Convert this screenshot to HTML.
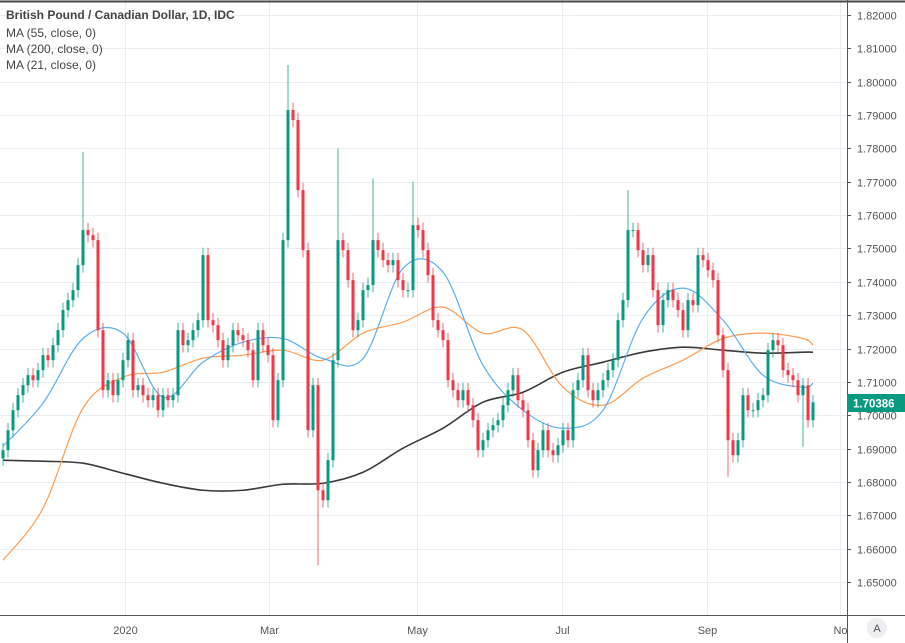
<!DOCTYPE html>
<html><head><meta charset="utf-8"><style>
body{margin:0;background:#fff;}
svg{display:block;font-family:"Liberation Sans",sans-serif;}
</style></head><body>
<svg id="chart" width="905" height="643" viewBox="0 0 905 643">
  <rect x="0" y="0" width="905" height="643" fill="#fff"/>
  <g id="grid"></g>
  <g id="mas"></g>
  <g id="candles"></g>
  <line x1="0" y1="1.5" x2="905" y2="1.5" stroke="#4a4a4a" stroke-width="2"/>
  <line x1="847.5" y1="0" x2="847.5" y2="643" stroke="#555" stroke-width="1"/>
  <line x1="0" y1="615.5" x2="905" y2="615.5" stroke="#555" stroke-width="1"/>
  <g id="yaxis"></g>
  <g id="xaxis"></g>
  <g font-size="12" fill="#444">
    <text x="6" y="19" font-weight="bold">British Pound / Canadian Dollar, 1D, IDC</text>
    <text x="6" y="37">MA (55, close, 0)</text>
    <text x="6" y="53">MA (200, close, 0)</text>
    <text x="6" y="69">MA (21, close, 0)</text>
  </g>
  <g>
    <rect x="847" y="394" width="58" height="18" fill="#089981"/>
    <text x="853" y="407.5" font-size="11.5" font-weight="bold" fill="#fff">1.70386</text>
  </g>
  <g>
    <circle cx="877" cy="628" r="10" fill="#eceef2"/>
    <text x="877" y="632" font-size="11" text-anchor="middle" fill="#555">A</text>
  </g>
</svg>
<script>
const closes=[1.6895,1.6955,1.7015,1.706,1.709,1.712,1.7105,1.7135,1.718,1.7165,1.721,1.7255,1.7315,1.7345,1.7375,1.745,1.7555,1.754,1.7525,1.7255,1.7075,1.7105,1.706,1.7105,1.7165,1.7225,1.7075,1.709,1.706,1.7045,1.706,1.7015,1.706,1.7045,1.706,1.7255,1.721,1.7225,1.7255,1.7285,1.748,1.7285,1.727,1.7225,1.7165,1.721,1.7255,1.724,1.7225,1.7195,1.7105,1.7255,1.721,1.718,1.6985,1.7105,1.7525,1.7915,1.7885,1.7675,1.7495,1.6955,1.709,1.6775,1.6745,1.6865,1.7165,1.7525,1.7495,1.7405,1.7255,1.7285,1.7375,1.739,1.7525,1.7495,1.7465,1.745,1.7465,1.7405,1.7375,1.7375,1.757,1.7555,1.7495,1.742,1.7285,1.7255,1.7225,1.7105,1.7075,1.7045,1.7075,1.703,1.6985,1.6895,1.6925,1.6955,1.697,1.6985,1.703,1.7075,1.712,1.7045,1.7015,1.6925,1.6835,1.6895,1.6955,1.6895,1.688,1.691,1.6955,1.6925,1.7075,1.7105,1.718,1.7075,1.7045,1.7075,1.7105,1.7135,1.7165,1.7285,1.7345,1.7555,1.7555,1.7495,1.745,1.748,1.7375,1.727,1.7345,1.7375,1.7345,1.7315,1.7255,1.7345,1.733,1.748,1.7465,1.7435,1.7405,1.724,1.7135,1.6925,1.688,1.6925,1.706,1.7015,1.7015,1.7045,1.706,1.7195,1.7225,1.721,1.7135,1.712,1.7105,1.706,1.709,1.6985,1.70386];
const firstOpen=1.6870;
const wick=0.0022;
const spikeIdx=[16,57,63,67,74,82,125,145,160];
const spikeVal=[1.779,1.805,1.655,1.780,1.771,1.770,1.7675,1.6815,1.6905];
const maIdx=[0,8,16,24,32,40,48,56,64,72,80,88,96,104,112,120,128,136,144,152,160,162];
const ma21=[1.6907,1.7036,1.723,1.7246,1.7054,1.7159,1.7219,1.723,1.717,1.717,1.744,1.7429,1.715,1.7015,1.6961,1.7015,1.7291,1.7381,1.7285,1.712,1.7084,1.7096];
const ma55=[1.6565,1.6721,1.7021,1.7114,1.7129,1.7171,1.718,1.7195,1.7165,1.7246,1.7279,1.7324,1.7246,1.7255,1.7084,1.703,1.7111,1.7165,1.723,1.7246,1.723,1.721];
const ma200=[1.6865,1.6862,1.6856,1.6826,1.6796,1.6775,1.6775,1.6793,1.6796,1.6829,1.6901,1.6961,1.7039,1.7069,1.7129,1.7159,1.7189,1.7204,1.7195,1.7186,1.7189,1.7189];
const priceTicks=[1.65,1.66,1.67,1.68,1.69,1.70,1.71,1.72,1.73,1.74,1.75,1.76,1.77,1.78,1.79,1.80,1.81,1.82];
const monthLabels=["2020","Mar","May","Jul","Sep","No"];
const monthIdx=[24.4,53.2,82.8,111.8,140.8,167.4];

const NS="http://www.w3.org/2000/svg";
function yS(p){return 15+(1.82-p)*3335;}
function xS(i){return 3+i*5;}
function mk(tag,attrs,parent){const e=document.createElementNS(NS,tag);for(const k in attrs)e.setAttribute(k,attrs[k]);parent.appendChild(e);return e;}
const grid=document.getElementById('grid'),yaxis=document.getElementById('yaxis'),xaxis=document.getElementById('xaxis');
priceTicks.forEach(p=>{
  const y=Math.round(yS(p))+0.5;
  const l=mk('line',{x1:0,x2:847,y1:y,y2:y,stroke:'#e8eef4','stroke-width':1},grid);
  
  
  const t=mk('text',{x:857,y:y+4,'font-size':11,fill:'#555'},yaxis);
  
  
  t.textContent=p.toFixed(5);
  mk('line',{x1:847,x2:851,y1:y,y2:y,stroke:'#555'},yaxis);
});
monthLabels.forEach((m,k)=>{
  const x=Math.round(xS(monthIdx[k]))+0.5;
  const l=mk('line',{x1:x,x2:x,y1:0,y2:615,stroke:'#e8eef4','stroke-width':1},grid);
  
  
  const t=mk('text',{x:x,y:634,'font-size':11,fill:'#555','text-anchor':'middle'},xaxis);
  
  
  t.textContent=m;
});
const cg=document.getElementById('candles');
closes.forEach((c,i)=>{
  const o=i===0?firstOpen:closes[i-1];
  let h=Math.max(o,c)+wick,lo=Math.min(o,c)-wick;
  const s=spikeIdx.indexOf(i);
  if(s>=0){if(spikeVal[s]>c)h=spikeVal[s];else lo=spikeVal[s];}
  const up=c>=o,col=up?'#089981':'#f23645';
  const x=xS(i);
  const g=mk('g',{},cg);
  
  
  mk('line',{x1:x,x2:x,y1:yS(h),y2:yS(lo),stroke:col,'stroke-width':1,opacity:0.75},g);
  const yt=yS(Math.max(o,c)),yb=yS(Math.min(o,c));
  mk('rect',{x:x-1.5,y:yt,width:3,height:Math.max(1,yb-yt),fill:col},g);
});
const mg=document.getElementById('mas');
function line(vals,col,w,name){
  const pts=vals.map((v,k)=>[xS(maIdx[k]),yS(v)]);
  let d='M'+pts[0][0]+','+pts[0][1];
  for(let k=0;k<pts.length-1;k++){
    const p0=pts[Math.max(0,k-1)],p1=pts[k],p2=pts[k+1],p3=pts[Math.min(pts.length-1,k+2)];
    d+=' C'+(p1[0]+(p2[0]-p0[0])/6)+','+(p1[1]+(p2[1]-p0[1])/6)+' '+(p2[0]-(p3[0]-p1[0])/6)+','+(p2[1]-(p3[1]-p1[1])/6)+' '+p2[0]+','+p2[1];
  }
  const e=mk('path',{d:d,fill:'none',stroke:col,'stroke-width':w},mg);
  
  
}
line(ma200,'#3a3a3a',1.6,'ma200-line');
line(ma55,'#ff9a4d',1.2,'ma55-line');
line(ma21,'#5aafef',1.2,'ma21-line');
</script>
</body></html>
